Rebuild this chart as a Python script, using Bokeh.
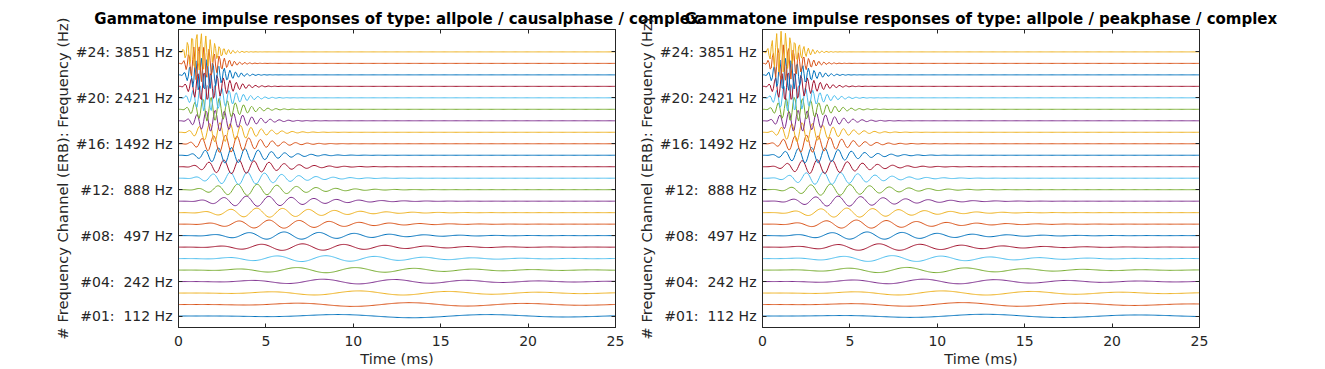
import numpy as np
from bokeh.plotting import figure
from bokeh.models import Range1d, FixedTicker, LinearAxis
from bokeh.layouts import row
from bokeh.embed import file_html
from bokeh.resources import INLINE

# ---- data ----
channels = list(range(1, 25))
center_freqs_hz = [112.0, 150.8, 194.1, 242.3, 296.0, 355.8, 422.5, 496.7,
                   579.3, 671.5, 774.1, 888.3, 1015.6, 1157.4, 1315.3, 1491.5,
                   1687.3, 1905.6, 2148.8, 2421.0, 2721.5, 3057.7, 3432.0, 3851.0]
tick_channels = [1, 4, 8, 12, 16, 20, 24]
tick_labels = ["#01: \u00a0112 Hz", "#04: \u00a0242 Hz", "#08: \u00a0497 Hz", "#12: \u00a0888 Hz",
               "#16: 1492 Hz", "#20: 2421 Hz", "#24: 3851 Hz"]
x_ticks = [0, 5, 10, 15, 20, 25]
titles = ["Gammatone impulse responses of type: allpole / causalphase / complex",
          "Gammatone impulse responses of type: allpole / peakphase / complex"]
phase_types = ["causalphase", "peakphase"]
top_peak = 1.8          # envelope peak of the top channel, in channel units
fs = 16000.0            # sampling rate of the responses
order = 4

colors = ["#0072BD", "#D95319", "#EDB120", "#7E2F8E", "#77AC30", "#4DBEEE", "#A2142F"]
AX = "#262626"
FONT = "DejaVu Sans"
TICK_FS = "14px"
LABEL_FS = "14.6px"

t = np.arange(0, 0.025 + 0.5 / fs, 1 / fs)
t_ms = t * 1000.0
bw = [1.019 * (24.7 + 0.108 * f) for f in center_freqs_hz]
bw_top = max(bw)


def response(f, b, phase_type):
    env = t ** (order - 1) * np.exp(-2 * np.pi * b * t)
    env = env / env.max()
    if phase_type == "peakphase":
        phi = -2 * np.pi * f * (order - 1) / (2 * np.pi * b)
    else:
        phi = 0.0
    return env * np.cos(2 * np.pi * f * t + phi)


def make_fig(title, phase_type, left, right, **kw):
    p = figure(frame_width=437, frame_height=298,
               x_range=Range1d(0, 25), y_range=Range1d(0, 25.95),
               output_backend="svg", toolbar_location=None,
               min_border_left=left, min_border_right=right,
               min_border_top=29, min_border_bottom=40,
               background_fill_color="white", **kw)
    p.title.text = title
    p.title.text_font = FONT
    p.title.text_font_size = "15px"
    p.title.text_font_style = "bold"
    p.title.text_color = "black"
    p.title.align = "center"
    p.title.standoff = 3

    for ch, f, b in zip(channels, center_freqs_hz, bw):
        y = ch + top_peak * (b / bw_top) * response(f, b, phase_type)
        p.line(t_ms, y, line_color=colors[(ch - 1) % len(colors)], line_width=1)

    p.xgrid.visible = False
    p.ygrid.visible = False
    p.outline_line_color = AX
    p.outline_line_width = 1

    xa = p.xaxis[0]
    xa.ticker = FixedTicker(ticks=x_ticks)
    xa.axis_label = "Time (ms)"
    ya = p.yaxis[0]
    ya.ticker = FixedTicker(ticks=tick_channels)
    ya.major_label_overrides = {c: l for c, l in zip(tick_channels, tick_labels)}
    ya.axis_label = "# Frequency Channel (ERB): Frequency (Hz)"
    for ax in (xa, ya):
        ax.major_tick_in = 4
        ax.major_tick_out = 0
        ax.minor_tick_line_color = None
        ax.axis_line_color = AX
        ax.major_tick_line_color = AX
        ax.major_label_text_color = AX
        ax.major_label_text_font = FONT
        ax.major_label_text_font_size = TICK_FS
        ax.axis_label_text_font = FONT
        ax.axis_label_text_font_size = LABEL_FS
        ax.axis_label_text_font_style = "normal"
        ax.axis_label_text_color = AX
    xa.major_label_standoff = 8
    xa.axis_label_standoff = 1
    ya.major_label_standoff = 6
    ya.axis_label_standoff = 2

    top = LinearAxis(ticker=FixedTicker(ticks=x_ticks))
    rgt = LinearAxis(ticker=FixedTicker(ticks=tick_channels))
    for ax in (top, rgt):
        ax.major_tick_in = 4
        ax.major_tick_out = 0
        ax.minor_tick_line_color = None
        ax.axis_line_color = AX
        ax.major_tick_line_color = AX
        ax.major_label_text_color = None
        ax.major_label_text_font_size = "1px"
        ax.major_label_standoff = 0
    p.add_layout(top, "above")
    p.add_layout(rgt, "right")
    return p


# left panel is wide enough to hold its long title; the right panel overlaps
# its (empty, transparent) border so both titles show as in the reference
p1 = make_fig(titles[0], phase_types[0], 178, 92,
              border_fill_color=None)
p2 = make_fig(titles[1], phase_types[1], 137, 80,
              border_fill_color=None, margin=(0, 0, 0, -82))
layout = row(p1, p2)

open("out.html", "w").write(file_html(layout, INLINE))
